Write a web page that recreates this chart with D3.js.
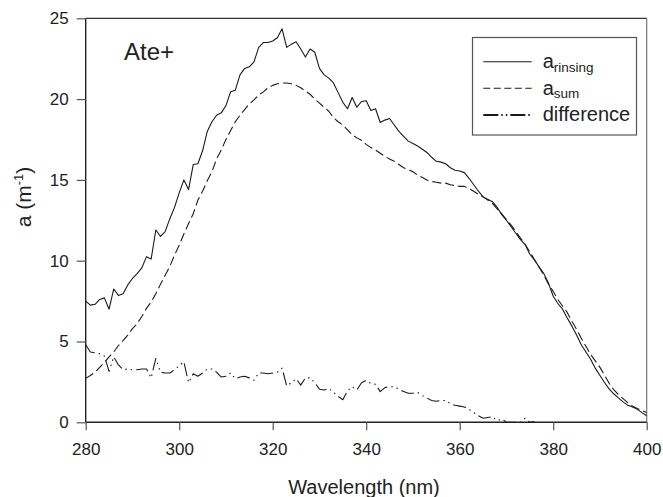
<!DOCTYPE html>
<html>
<head>
<meta charset="utf-8">
<script src="https://cdn.jsdelivr.net/npm/d3@7"></script>
<style>
  html, body { margin: 0; padding: 0; background: #fff; }
  svg { display: block; font-family: "Liberation Sans", Arial, Helvetica, sans-serif; }
</style>
</head>
<body>
<svg id="chart" width="663" height="497"></svg>
<script>
// ---- data ----
const wavelengths = d3.range(280, 401); // nm, 1-nm steps
const aRinsing = [
  7.5, 7.25, 7.3, 7.6, 7.7, 7.0, 8.25, 7.85, 7.95, 8.5,
  8.9, 9.2, 9.55, 10.25, 10.1, 11.9, 11.5, 11.8, 12.6, 13.3,
  14.2, 15.0, 14.4, 15.95, 16.0, 16.8, 18.0, 18.6, 19.0, 19.15,
  19.6, 20.45, 20.55, 21.5, 21.9, 22.0, 22.3, 23.2, 23.5, 23.5,
  23.6, 23.8, 24.35, 23.2, 23.4, 23.55, 23.1, 22.6, 23.1, 22.9,
  21.9, 21.5, 21.3, 21.0, 20.4, 19.8, 19.4, 20.1, 19.5, 19.85,
  19.9, 19.3, 19.4, 18.55, 18.7, 18.8, 18.4, 18.0, 17.7, 17.4,
  17.25, 17.1, 16.9, 16.7, 16.4, 16.15, 16.1, 16.0, 15.75, 15.6,
  15.55, 15.45, 15.1, 14.7, 14.3, 13.95, 13.8, 13.65, 13.3, 12.85,
  12.5, 12.1, 11.7, 11.3, 11.0, 10.4, 10.05, 9.6, 9.2, 8.6,
  7.8, 7.35, 7.0, 6.45, 5.95, 5.4, 4.8, 4.35, 3.9, 3.35,
  2.9, 2.45, 2.05, 1.75, 1.5, 1.25, 1.05, 0.95, 0.8, 0.6,
  0.4
];
const aSum = [
  2.72, 2.9, 3.1, 3.4, 3.7, 4.05, 4.35, 4.75, 5.05, 5.4,
  5.8, 6.1, 6.55, 7.05, 7.45, 7.95, 8.55, 9.1, 9.65, 10.35,
  10.95, 11.65, 12.3, 12.9, 13.75, 14.3, 14.95, 15.5, 16.3, 16.85,
  17.5, 18.05, 18.6, 19.0, 19.35, 19.7, 19.95, 20.25, 20.45, 20.7,
  20.85, 20.95, 21.0, 21.0, 20.95, 20.85, 20.7, 20.5, 20.3, 20.0,
  19.75, 19.5, 19.25, 18.85, 18.6, 18.4, 18.1, 17.8, 17.6, 17.45,
  17.2, 17.0, 16.85, 16.65, 16.45, 16.3, 16.15, 15.95, 15.75, 15.65,
  15.5, 15.3, 15.15, 15.0, 14.9, 14.85, 14.8, 14.8, 14.7, 14.65,
  14.6, 14.6, 14.45, 14.3, 14.1, 13.95, 13.75, 13.55, 13.2, 12.9,
  12.55, 12.2, 11.8, 11.4, 11.0, 10.55, 10.05, 9.6, 9.1, 8.55,
  8.1, 7.6, 7.2, 6.8, 6.25, 5.75, 5.2, 4.7, 4.2, 3.8,
  3.4, 2.9, 2.4, 2.0, 1.7, 1.45, 1.2, 1.0, 0.85, 0.72,
  0.6
];
const difference = [
  4.8, 4.35, 4.3, 4.25, 4.1, 3.15, 4.05, 3.55, 3.25, 3.3,
  3.25, 3.25, 3.3, 3.3, 2.75, 3.95, 3.1, 3.05, 3.05, 3.25,
  3.5, 3.75, 2.45, 3.0, 2.85, 3.05, 3.3, 3.3, 3.1, 2.8,
  2.85, 3.05, 2.7, 2.8, 2.85, 2.75, 2.6, 3.05, 3.05, 3.0,
  3.05, 3.1, 3.35, 2.25, 2.45, 2.7, 2.3, 2.75, 2.75, 2.45,
  2.05, 2.0, 2.1, 1.85, 1.6, 1.4, 1.95, 2.2, 2.0, 2.45,
  2.6, 2.4, 2.35, 1.9, 2.15, 2.2, 2.2, 2.05, 1.9, 1.8,
  1.8, 1.85, 1.65, 1.5, 1.35, 1.3, 1.35, 1.35, 1.15, 1.05,
  1.0, 0.95, 0.8, 0.6, 0.4, 0.25, 0.3, 0.35, 0.1, 0.2,
  0.0, 0.0, 0.0, 0.0, 0.25, 0.0, 0.05
];
const xTicks = [280, 300, 320, 340, 360, 380, 400];
const yTicks = [0, 5, 10, 15, 20, 25];
const legendItems = [
  { main: "a", sub: "rinsing", key: "rinsing" },
  { main: "a", sub: "sum", key: "sum" },
  { main: "difference", sub: "", key: "difference" }
];

// ---- layout ----
const svg = d3.select("#chart");
const L = 85.7, R = 646.7, T = 18.3, B = 422.3;
const x = d3.scaleLinear().domain([280, 400]).range([L, R]);
const y = d3.scaleLinear().domain([0, 25]).range([B, T]);

const styles = {
  rinsing: { dash: null },
  sum: { dash: "9,4" },
  difference: { dash: "13,4,1.5,4,1.5,4" }
};

// clip
svg.append("clipPath").attr("id", "plotclip")
  .append("rect").attr("x", L).attr("y", T - 2).attr("width", R - L).attr("height", B - T + 2);

// frame top / right
svg.append("line").attr("x1", L).attr("x2", R).attr("y1", T).attr("y2", T)
  .attr("stroke", "#333").attr("stroke-width", 1.2);
svg.append("line").attr("x1", R).attr("x2", R).attr("y1", T).attr("y2", B)
  .attr("stroke", "#777").attr("stroke-width", 1.2);

// axes
const yAxis = d3.axisLeft(y).tickValues(yTicks).tickSize(9).tickPadding(8).tickFormat(d3.format("d"));
const xAxis = d3.axisBottom(x).tickValues(xTicks).tickSize(8).tickPadding(13).tickFormat(d3.format("d"));

const gy = svg.append("g").attr("transform", `translate(${L},0)`).call(yAxis);
const gx = svg.append("g").attr("transform", `translate(0,${B})`).call(xAxis);
[gx, gy].forEach(g => {
  g.select(".domain").attr("stroke", "#222").attr("stroke-width", 1.4);
  g.selectAll(".tick line").attr("stroke", "#555").attr("stroke-width", 1.2);
  g.selectAll(".tick text").attr("fill", "#222").style("font-size", "17px")
    .style("font-family", '"Liberation Sans", Arial, sans-serif');
});
gy.select(".domain").attr("d", `M0,${B}V${T}`);
gx.select(".domain").attr("d", `M${L},0H${R}`);

// lines
const line = d3.line().x((d, i) => x(wavelengths[i])).y(d => y(d));
const plot = svg.append("g").attr("clip-path", "url(#plotclip)");
[["rinsing", aRinsing], ["sum", aSum], ["difference", difference]].forEach(([k, vals]) => {
  plot.append("path").datum(vals).attr("d", line)
    .attr("fill", "none").attr("stroke", "#1a1a1a").attr("stroke-width", 1.1)
    .attr("stroke-linejoin", "round")
    .attr("stroke-dasharray", styles[k].dash);
});

// panel label
svg.append("text").attr("x", 124).attr("y", 60).text("Ate+")
  .attr("fill", "#222").style("font-size", "24px");

// legend
svg.append("rect").attr("x", 472.5).attr("y", 37.5).attr("width", 164).attr("height", 97.5)
  .attr("fill", "#fff").attr("stroke", "#555").attr("stroke-width", 1.2);
const rowY = [61.7, 88.3, 115];
legendItems.forEach((it, i) => {
  const g = svg.append("g");
  g.append("line").attr("x1", 483.3).attr("x2", 531.7).attr("y1", rowY[i]).attr("y2", rowY[i])
    .attr("stroke", "#1a1a1a").attr("stroke-width", it.key === "difference" ? 1.8 : 1.1)
    .attr("stroke-dasharray", it.key === "sum" ? "7,3.5" : it.key === "difference" ? "15,3,1.5,3,1.5,3" : null);
  const t = g.append("text").attr("x", 542.7).attr("y", rowY[i] + 6.3)
    .attr("fill", "#222").style("font-size", "20px");
  t.append("tspan").text(it.main);
  if (it.sub) t.append("tspan").text(it.sub).attr("dy", 3.5).style("font-size", "13.5px");
});

// axis titles
svg.append("text").attr("x", 364).attr("y", 494).attr("text-anchor", "middle")
  .attr("fill", "#222").style("font-size", "20px").text("Wavelength (nm)");
const yl = svg.append("text").attr("transform", "translate(31,197) rotate(-90)")
  .attr("text-anchor", "middle").attr("fill", "#222").style("font-size", "21px");
yl.append("tspan").text("a (m");
yl.append("tspan").text("-1").attr("dy", -8).style("font-size", "13px");
yl.append("tspan").text(")").attr("dy", 8);
</script>
</body>
</html>
